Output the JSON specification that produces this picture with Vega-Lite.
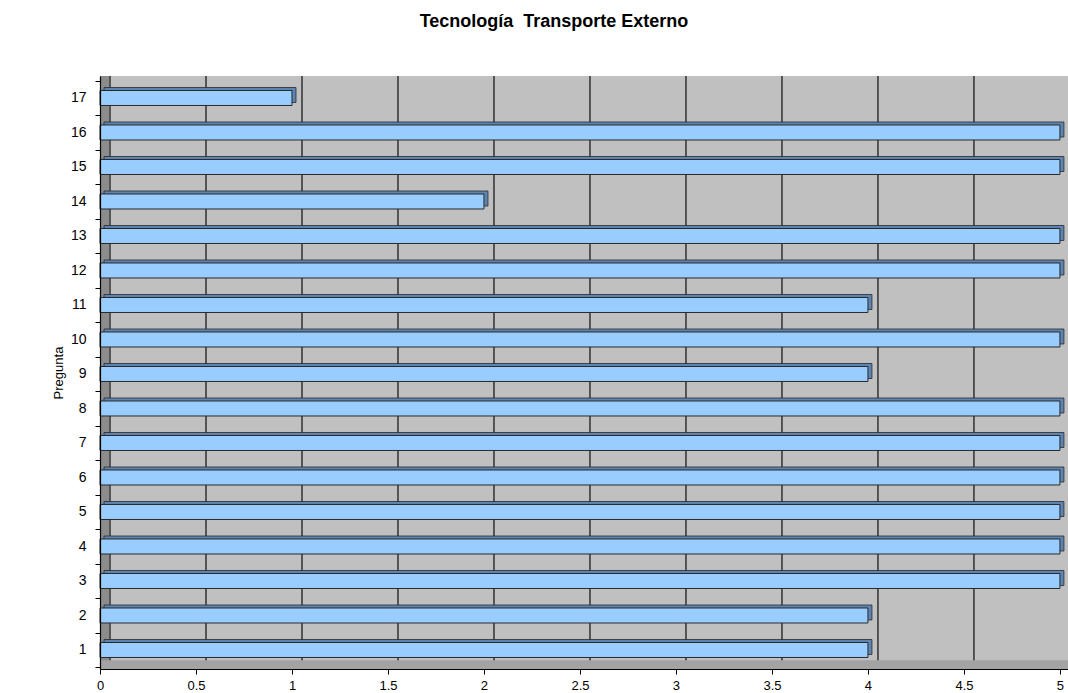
{
  "$schema": "https://vega.github.io/schema/vega-lite/v6.json",
  "autosize": {"type": "none"},
  "padding": {"left": 100, "top": 76, "right": 0, "bottom": 24},
  "width": 968,
  "height": 593,
  "background": "#ffffff",
  "view": {"fill": "#c0c0c0", "stroke": null},
  "title": {
    "text": "Tecnología\u00a0 Transporte Externo",
    "font": "Liberation Sans",
    "fontSize": 18,
    "fontWeight": "bold",
    "color": "#000000",
    "anchor": "middle",
    "dx": -30,
    "offset": 38
  },
  "datasets": {
    "respuestas": [
      {"pregunta": 1, "valor": 4},
      {"pregunta": 2, "valor": 4},
      {"pregunta": 3, "valor": 5},
      {"pregunta": 4, "valor": 5},
      {"pregunta": 5, "valor": 5},
      {"pregunta": 6, "valor": 5},
      {"pregunta": 7, "valor": 5},
      {"pregunta": 8, "valor": 5},
      {"pregunta": 9, "valor": 4},
      {"pregunta": 10, "valor": 5},
      {"pregunta": 11, "valor": 4},
      {"pregunta": 12, "valor": 5},
      {"pregunta": 13, "valor": 5},
      {"pregunta": 14, "valor": 2},
      {"pregunta": 15, "valor": 5},
      {"pregunta": 16, "valor": 5},
      {"pregunta": 17, "valor": 1}
    ],
    "rejilla": [
      {"x": 0}, {"x": 0.5}, {"x": 1}, {"x": 1.5}, {"x": 2},
      {"x": 2.5}, {"x": 3}, {"x": 3.5}, {"x": 4}, {"x": 4.5}
    ]
  },
  "resolve": {"scale": {"x": "shared", "y": "shared"}},
  "layer": [
    {
      "description": "left wall of the 3D box",
      "data": {"values": [{}]},
      "mark": {"type": "rect", "fill": "#8c8c8c", "x2Offset": 9},
      "encoding": {
        "x": {"datum": 0, "type": "quantitative", "scale": {"domain": [0, 5.042], "nice": false, "zero": false}},
        "x2": {"datum": 0}
      }
    },
    {
      "description": "gridlines on the back wall",
      "data": {"name": "rejilla"},
      "mark": {"type": "rule", "stroke": "#3a3a3a", "strokeWidth": 1.6, "xOffset": 10},
      "encoding": {
        "x": {"field": "x", "type": "quantitative"}
      }
    },
    {
      "description": "floor of the 3D box",
      "data": {"values": [{}]},
      "mark": {"type": "rect", "fill": "#a3a3a3", "yOffset": -7, "y2Offset": 2},
      "encoding": {
        "x": {"datum": 0, "type": "quantitative"},
        "x2": {"datum": 5.042},
        "y": {"datum": 1, "type": "ordinal", "bandPosition": 1},
        "y2": {"datum": 1, "bandPosition": 1}
      }
    },
    {
      "description": "bar depth (top and side faces)",
      "data": {"name": "respuestas"},
      "mark": {"type": "bar", "size": 15, "fill": "#5d85b3", "stroke": "#2a2a2a", "strokeWidth": 0.8, "xOffset": 4, "yOffset": -3},
      "encoding": {
        "y": {"field": "pregunta", "type": "ordinal"},
        "x": {"field": "valor", "type": "quantitative"}
      }
    },
    {
      "description": "bar front faces",
      "data": {"name": "respuestas"},
      "mark": {"type": "bar", "size": 15, "fill": "#99ccff", "stroke": "#2a2a2a", "strokeWidth": 1},
      "encoding": {
        "y": {
          "field": "pregunta",
          "type": "ordinal",
          "scale": {
            "domain": [17, 16, 15, 14, 13, 12, 11, 10, 9, 8, 7, 6, 5, 4, 3, 2, 1],
            "paddingInner": 0,
            "paddingOuter": 0.094,
            "align": 0.73
          },
          "axis": {
            "title": "Pregunta",
            "titleFont": "Liberation Sans",
            "titleFontSize": 13,
            "titleFontWeight": "normal",
            "titleColor": "#000000",
            "titlePadding": 5,
            "labelFont": "Liberation Sans",
            "labelFontSize": 14,
            "labelColor": "#000000",
            "labelPadding": 9,
            "tickBand": "extent",
            "tickSize": 5,
            "tickColor": "#000000",
            "domainColor": "#000000",
            "domainWidth": 1.2,
            "labelAngle": 0,
            "zindex": 1
          }
        },
        "x": {
          "field": "valor",
          "type": "quantitative",
          "axis": {
            "title": null,
            "values": [0, 0.5, 1, 1.5, 2, 2.5, 3, 3.5, 4, 4.5, 5],
            "format": "~g",
            "grid": false,
            "labelFont": "Liberation Sans",
            "labelFontSize": 13,
            "labelColor": "#000000",
            "labelPadding": 5,
            "labelFlush": false,
            "tickSize": 5,
            "tickColor": "#000000",
            "domainColor": "#000000",
            "domainWidth": 1.2,
            "zindex": 1
          }
        }
      }
    }
  ]
}
